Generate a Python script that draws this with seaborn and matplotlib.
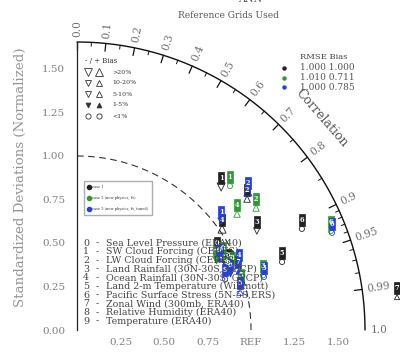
import numpy as np
import matplotlib
matplotlib.use("Agg")
import matplotlib.pyplot as plt
import seaborn as sns
import pandas as pd

sns.set_style("white")
plt.rcParams['font.family'] = ['DejaVu Serif']

# ---------------- data ----------------
variables = [
    "Sea Level Pressure (ERA40)",
    "SW Cloud Forcing (CERES)",
    "LW Cloud Forcing (CERES)",
    "Land Rainfall (30N-30S, GPCP)",
    "Ocean Rainfall (30N-30S, GPCP)",
    "Land 2-m Temperature (Willmott)",
    "Pacific Surface Stress (5N-5S,ERS)",
    "Zonal Wind (300mb, ERA40)",
    "Relative Humidity (ERA40)",
    "Temperature (ERA40)",
]
models = ["case 1", "case 2 (new physics, fv)", "case 3 (new physics, fv, tuned)"]
model_colors = ["#222222", "#2f9a35", "#2340e0"]
rmse_vals = ["1.000", "1.010", "1.000"]
bias_vals = ["1.000", "0.711", "0.785"]

# normalized standard deviations / correlations / bias (%) per case
std_case1 = [0.948, 1.204, 1.266, 1.206, 1.046, 1.259, 1.439, 1.855, 0.969, 0.941]
cor_case1 = [0.849, 0.688, 0.772, 0.857, 0.797, 0.936, 0.898, 0.9915, 0.896, 0.910]
bias_case1 = [3, -25, 15, -12, 22, 0.5, 0.5, 7, -3, 0.5]

std_case2 = [0.962, 1.243, 1.275, 1.130, 1.167, 0.994, 1.586, 0.916, 0.982, 0.950]
cor_case2 = [0.872, 0.707, 0.807, 0.946, 0.788, 0.948, 0.920, 0.872, 0.907, 0.915]
bias_case2 = [2, 0.5, 15, 0.5, 12, 0.5, 0.5, -3, 6, 0.5]

std_case3 = [0.937, 1.070, 1.296, 1.132, 1.026, 0.975, 1.587, 1.004, 0.955, 0.918]
cor_case3 = [0.871, 0.774, 0.758, 0.949, 0.907, 0.961, 0.923, 0.921, 0.920, 0.927]
bias_case3 = [2, -12, 22, 0.5, -8, 12, 0.5, 4, -3, 0.5]

y_ticks = [0.0, 0.25, 0.5, 0.75, 1.0, 1.25, 1.5]
y_tick_labels = ["0.00", "0.25", "0.50", "0.75", "1.00", "1.25", "1.50"]
x_ticks = [0.25, 0.5, 0.75, 1.0, 1.25, 1.5]
x_tick_labels = ["0.25", "0.50", "0.75", "REF", "1.25", "1.50"]
cor_major = [0.0, 0.1, 0.2, 0.3, 0.4, 0.5, 0.6, 0.7, 0.8, 0.9, 0.95, 0.99]
cor_minor = [0.05, 0.15, 0.25, 0.35, 0.45, 0.55, 0.65, 0.75, 0.85,
             0.91, 0.92, 0.93, 0.94, 0.96, 0.97, 0.98]
cor_labels = ["0.0", "0.1", "0.2", "0.3", "0.4", "0.5", "0.6", "0.7",
              "0.8", "0.9", "0.95", "0.99", "1.0"]
bias_legend_rows = [(">20%", 21), ("10-20%", 11), ("5-10%", 6), ("1-5%", 2), ("<1%", 0.5)]

RMAX = 1.655

# ---------------- helpers ----------------
def bias_marker(b):
    a = abs(b)
    if a < 1:
        return "o", 14, "none"
    mk = "^" if b > 0 else "v"
    if a > 20:
        return mk, 34, "none"
    if a > 10:
        return mk, 22, "none"
    if a > 5:
        return mk, 14, "none"
    return mk, 12, "fill"

rect = [(-0.6, -1.0), (0.6, -1.0), (0.6, 1.0), (-0.6, 1.0), (-0.6, -1.0)]

rows = []
for m, (s, c, b) in enumerate([(std_case1, cor_case1, bias_case1),
                              (std_case2, cor_case2, bias_case2),
                              (std_case3, cor_case3, bias_case3)]):
    for i in range(len(s)):
        th = np.arccos(c[i])
        rows.append(dict(model=models[m], var=i, std=s[i], cor=c[i], bias=b[i],
                         x=s[i] * np.cos(th), y=s[i] * np.sin(th)))
df = pd.DataFrame(rows)

# ---------------- figure ----------------
fig = plt.figure(figsize=(4.0, 3.53), dpi=100)
ax = fig.add_axes([77 / 400, 23 / 353, 288 / 400, 288 / 353])
ax.set_xlim(0, RMAX)
ax.set_ylim(0, RMAX)
for sp in ["top", "right", "bottom"]:
    ax.spines[sp].set_visible(False)
ax.spines["left"].set_color("#222222")
ax.spines["left"].set_linewidth(0.9)
ax.set_yticks(y_ticks)
ax.set_yticklabels(y_tick_labels)
ax.set_xticks(x_ticks)
ax.set_xticklabels(x_tick_labels)
ax.tick_params(axis="y", direction="out", length=4, width=0.9, color="#222222",
               labelcolor="#808080", labelsize=7.5, pad=4.5)
ax.tick_params(axis="x", direction="in", length=8, width=0.8, color="#222222",
               labelcolor="#808080", labelsize=7.5, pad=5.5)
ax.set_ylabel("Standardized Deviations (Normalized)", fontsize=9.6, color="#959595")
ax.yaxis.set_label_coords(-0.174, 0.531)
ax.grid(False)

# outer correlation arc
th = np.linspace(0, np.pi / 2, 400)
ax.plot(RMAX * np.cos(th), RMAX * np.sin(th), color="#111111", lw=1.0, clip_on=False)
# REF arc
ax.plot(np.cos(th), np.sin(th), color="#333333", lw=0.8, ls=(0, (6, 4)))

for c in cor_major:
    t = np.arccos(c)
    ax.plot([RMAX * np.cos(t), (RMAX - 0.045) * np.cos(t)],
            [RMAX * np.sin(t), (RMAX - 0.045) * np.sin(t)], color="#111111", lw=0.9,
            clip_on=False)
for c in cor_minor:
    t = np.arccos(c)
    ax.plot([RMAX * np.cos(t), (RMAX - 0.022) * np.cos(t)],
            [RMAX * np.sin(t), (RMAX - 0.022) * np.sin(t)], color="#111111", lw=0.7,
            clip_on=False)
for lab in cor_labels:
    c = float(lab)
    t = np.arccos(c)
    rr = RMAX + 0.03
    ax.text(rr * np.cos(t), rr * np.sin(t), lab, rotation=np.degrees(t),
            rotation_mode="anchor", ha="left", va="center", fontsize=7.6,
            color="#707070", clip_on=False)
ang = np.radians(41)
ax.text(1.86 * np.cos(ang), 1.86 * np.sin(ang), "Correlation", rotation=-49,
        ha="center", va="center", fontsize=9, color="#555555", clip_on=False)

# variable list
for i, v in enumerate(variables):
    ypx = 243 + i * 8.67
    fig.text(86 / 400, 1 - ypx / 353, f"{i}", fontsize=6.8, color="#444444",
             ha="center", va="center")
    fig.text(97 / 400, 1 - ypx / 353, "-", fontsize=6.8, color="#444444",
             ha="center", va="center")
    fig.text(106 / 400, 1 - ypx / 353, v, fontsize=6.8, color="#444444",
             ha="left", va="center")

# points
for m, col in enumerate(model_colors):
    d = df[df.model == models[m]]
    sns.scatterplot(data=d, x="x", y="y", marker=rect, s=65, color=col,
                    edgecolor=col, linewidth=0.5, ax=ax, legend=False, zorder=5,
                    clip_on=False)
    for _, r in d.iterrows():
        ax.text(r.x, r.y, str(int(r["var"])), fontsize=4.8, color="white",
                ha="center", va="center", zorder=6, fontweight="bold")
        mk, sz, fill = bias_marker(r.bias)
        ax.scatter(r.x, r.y - 0.052, marker=mk, s=sz,
                   facecolor=col if fill == "fill" else "none",
                   edgecolor=col, linewidth=0.6, zorder=5, clip_on=False)

# bias legend (upper left)
fig.text(85 / 400, 1 - 61 / 353, "- / + Bias", fontsize=5, color="#333333",
         ha="left", va="center")
for k, (lab, bval) in enumerate(bias_legend_rows):
    ypx = 72 + k * 11
    for sx, sgn in [(88, -1), (99, 1)]:
        mk, sz, fill = bias_marker(sgn * bval)
        fig.add_artist(plt.Line2D([sx / 400], [1 - ypx / 353], marker=mk,
                                  markersize=np.sqrt(sz), color="#333333",
                                  markerfacecolor="#333333" if fill == "fill" else "none",
                                  markeredgewidth=0.6, linestyle="none",
                                  transform=fig.transFigure))
    fig.text(112 / 400, 1 - ypx / 353, lab, fontsize=4.5, color="#333333",
             ha="left", va="center")

# RMSE / Bias legend (upper right)
fig.text(300 / 400, 1 - 57 / 353, "RMSE Bias", fontsize=6, color="#444444",
         ha="left", va="center")
for k in range(3):
    ypx = 68 + k * 9.7
    fig.add_artist(plt.Line2D([284 / 400], [1 - ypx / 353], marker="o", markersize=2.2,
                              color=model_colors[k], linestyle="none",
                              transform=fig.transFigure))
    fig.text(300 / 400, 1 - ypx / 353, f"{rmse_vals[k]} {bias_vals[k]}", fontsize=6.5,
             color="#555555", ha="left", va="center")

# case legend box
handles = [plt.Line2D([], [], marker="o", markersize=3, color=c, linestyle="none")
           for c in model_colors]
leg = fig.legend(handles, models, loc="upper left",
                 bbox_to_anchor=(82 / 400, 1 - 179 / 353), fontsize=2.6,
                 frameon=True, fancybox=False, edgecolor="#999999",
                 handletextpad=0.7, labelspacing=2.0, borderpad=1.1, handlelength=0.6,
                 labelcolor="#333333")

# title
fig.text(250 / 400, 1.0, "ANN", fontsize=7, color="#555555", ha="center", va="center")
fig.text(228 / 400, 1 - 15 / 353, "Reference Grids Used", fontsize=6.5,
         color="#555555", ha="center", va="center")

fig.savefig("out.png", dpi=100)
